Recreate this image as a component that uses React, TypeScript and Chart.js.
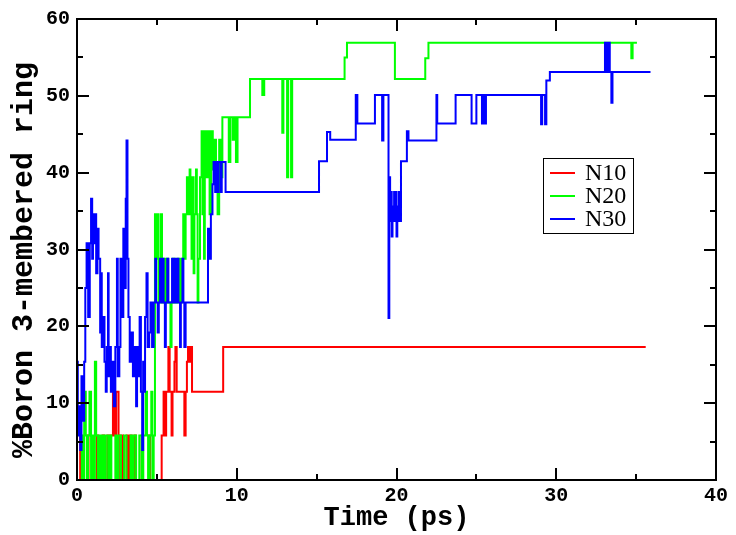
import React, { useEffect, useRef } from 'react';
import { Chart, registerables } from 'chart.js';

Chart.register(...registerables);

// ---- data: [time (ps), % boron in 3-membered ring] ----
const n10: [number, number][] = [
  [0, 0], [0.2, 5.8], [0.27, 0], [0.65, 5.8], [0.72, 0], [1.25, 5.8], [1.33, 0], [1.6, 5.8], [1.7, 0],
  [1.9, 5.8], [2.0, 0], [2.1, 5.8], [2.25, 11.5], [2.35, 5.8], [2.45, 11.5], [2.6, 5.8], [2.7, 0],
  [2.8, 5.8], [2.88, 0], [3.1, 5.8], [3.2, 0], [3.3, 5.8], [3.42, 0], [3.6, 5.8], [3.68, 0],
  [4.05, 5.8], [4.12, 0], [4.5, 5.8], [4.58, 0], [5.3, 5.8], [5.42, 11.5], [5.5, 5.8], [5.58, 11.5],
  [5.72, 17.3], [5.8, 11.5], [5.92, 5.8], [5.98, 11.5], [6.1, 15.4], [6.16, 17.3], [6.24, 11.5],
  [6.72, 5.8], [6.8, 11.5], [6.88, 15.4], [6.95, 17.3], [7.05, 15.4], [7.12, 17.3], [7.2, 11.5],
  [9.15, 17.3], [35.6, 17.3],
];

const n20: [number, number][] = [
  [0, 0], [0.3, 5.8], [0.4, 0], [0.45, 11.5], [0.55, 5.8], [0.62, 0], [0.7, 5.8], [0.78, 11.5],
  [0.88, 0], [0.95, 5.8], [1.05, 0], [1.12, 15.4], [1.2, 5.8], [1.3, 0], [1.42, 5.8], [1.5, 0],
  [1.58, 5.8], [1.7, 0], [1.8, 5.8], [1.95, 0], [2.05, 5.8], [2.15, 0], [2.4, 5.8], [2.5, 0],
  [2.6, 5.8], [2.75, 0], [2.95, 5.8], [3.1, 0], [3.35, 5.8], [3.45, 0], [3.55, 5.8], [3.7, 0],
  [3.9, 5.8], [4.05, 0], [4.15, 5.8], [4.3, 11.5], [4.38, 5.8], [4.45, 0], [4.55, 5.8], [4.65, 11.5],
  [4.72, 0], [4.8, 5.8], [4.88, 34.6], [4.95, 28.8], [5.02, 34.6], [5.1, 23.1], [5.18, 28.8],
  [5.25, 34.6], [5.32, 23.1], [5.42, 28.8], [5.5, 23.1], [5.6, 28.8], [5.7, 23.1], [5.85, 17.3],
  [5.92, 23.1], [6.0, 28.8], [6.1, 23.1], [6.3, 28.8], [6.45, 23.1], [6.55, 28.8], [6.65, 34.6],
  [6.72, 28.8], [6.8, 34.6], [6.88, 39.4], [6.95, 34.6], [7.0, 39.4], [7.05, 40.4], [7.1, 34.6],
  [7.17, 28.8], [7.22, 39.4], [7.3, 26.9], [7.35, 34.6], [7.45, 40.4], [7.5, 34.6], [7.55, 23.1],
  [7.6, 28.8], [7.7, 39.4], [7.8, 45.4], [7.85, 34.6], [7.9, 45.4], [7.95, 28.8], [8.0, 45.4],
  [8.1, 39.4], [8.2, 45.4], [8.3, 34.6], [8.4, 45.4], [8.5, 40.4], [8.6, 44.3], [8.7, 38.5],
  [8.8, 34.6], [8.9, 44.3], [9.0, 39.4], [9.1, 47.2], [9.5, 41.4], [9.6, 47.2], [9.75, 44.3],
  [9.85, 47.2], [9.95, 41.4], [10.05, 47.2], [10.83, 52.2], [11.6, 50.1], [11.72, 52.2],
  [12.85, 45.2], [12.92, 52.2], [13.15, 39.4], [13.22, 52.2], [13.4, 39.4], [13.47, 52.2],
  [16.75, 55], [16.9, 56.9], [19.9, 52.2], [21.8, 54.9], [22.0, 56.9], [34.7, 54.9], [34.78, 56.9],
  [35.05, 56.9],
];

const n30: [number, number][] = [
  [0, 15.4], [0.05, 5.8], [0.12, 9.6], [0.2, 3.9], [0.28, 13.5], [0.38, 7.7], [0.45, 15.4], [0.52, 25],
  [0.6, 30.8], [0.7, 21.2], [0.8, 30.8], [0.88, 36.6], [0.95, 28.8], [1.0, 34.6], [1.05, 30.8],
  [1.12, 34.6], [1.2, 26.9], [1.28, 32.7], [1.35, 28.8], [1.45, 19.2], [1.5, 26.9], [1.55, 17.3],
  [1.65, 21.2], [1.72, 15.4], [1.8, 11.5], [1.86, 17.3], [1.94, 26.9], [1.98, 13.5], [2.05, 17.3],
  [2.12, 11.5], [2.2, 15.4], [2.3, 9.6], [2.4, 17.3], [2.5, 28.8], [2.55, 13.5], [2.65, 17.3],
  [2.72, 28.8], [2.82, 21.2], [2.9, 32.7], [2.97, 25], [3.05, 36.6], [3.1, 44.2], [3.16, 28.8],
  [3.22, 21.2], [3.3, 15.4], [3.4, 19.2], [3.5, 13.5], [3.6, 17.3], [3.7, 9.6], [3.76, 17.3],
  [3.85, 13.5], [3.92, 21.2], [4.0, 11.5], [4.08, 3.9], [4.14, 15.4], [4.2, 11.5], [4.26, 21.2],
  [4.35, 26.9], [4.42, 17.3], [4.52, 19.2], [4.6, 23.1], [4.7, 17.3], [4.8, 23.1], [4.9, 28.8],
  [4.95, 23.1], [5.05, 19.2], [5.12, 23.1], [5.2, 28.8], [5.28, 23.1], [5.35, 28.8], [5.42, 23.1],
  [5.5, 17.3], [5.56, 23.1], [5.65, 28.8], [5.72, 23.1], [5.95, 28.8], [6.02, 23.1], [6.08, 28.8],
  [6.15, 23.1], [6.25, 28.8], [6.35, 23.1], [6.45, 17.3], [6.5, 23.1], [6.6, 28.8], [6.66, 23.1],
  [6.72, 17.3], [6.8, 23.1], [8.2, 32.7], [8.3, 28.8], [8.38, 34.6], [8.48, 38.5], [8.55, 41.4],
  [8.65, 37.5], [8.72, 41.4], [8.8, 37.5], [8.86, 41.4], [9.0, 37.5], [9.06, 41.4], [9.3, 37.5],
  [15.15, 41.5], [15.65, 45.3], [15.85, 44.3], [17.45, 50.1], [17.55, 46.4], [18.65, 50.1],
  [19.1, 44.2], [19.18, 50.1], [19.5, 21.1], [19.55, 39.4], [19.6, 33.7], [19.65, 37.5], [19.7, 31.7],
  [19.75, 35.6], [19.8, 33.7], [19.85, 37.5], [19.9, 33.7], [19.95, 37.5], [20.0, 31.7], [20.05, 35.6],
  [20.1, 33.7], [20.15, 37.5], [20.2, 33.7], [20.28, 41.5], [20.65, 45.4], [20.75, 44.2], [22.5, 50.1],
  [22.55, 46.4], [23.7, 50.1], [24.7, 46.4], [25.0, 50.1], [25.35, 46.4], [25.42, 50.1], [25.52, 46.4],
  [25.6, 50.1], [29.05, 46.3], [29.12, 50.1], [29.3, 46.3], [29.38, 52], [29.6, 53.1], [33.05, 56.9],
  [33.12, 53.1], [33.18, 56.9], [33.25, 53.1], [33.3, 56.9], [33.35, 53.1], [33.45, 49.1],
  [33.52, 53.1], [35.9, 53.1],
];

const seriesNames = ['N10', 'N20', 'N30'];
const seriesColors = ['#ff0000', '#00ff00', '#0000ff'];
const xTitle = 'Time (ps)';
const yTitle = '%Boron 3-membered ring';
const xMin = 0, xMax = 40, xStep = 10;
const yMin = 0, yMax = 60, yStep = 10;

const tickFont = { family: 'Liberation Mono', weight: 'bold' as const, size: 20 };
const titleFont = { family: 'Liberation Mono', weight: 'bold' as const, size: 27 };

const framePlugin = {
  id: 'graceFrame',
  afterDraw(chart: any) {
    const { ctx, chartArea: a, scales } = chart;
    ctx.save();
    ctx.strokeStyle = '#000';
    ctx.lineWidth = 2;
    ctx.strokeRect(a.left, a.top, a.right - a.left, a.bottom - a.top);
    ctx.beginPath();
    for (let v = xMin + xStep / 2; v < xMax; v += xStep / 2) {
      const major = Math.abs(v / xStep - Math.round(v / xStep)) < 1e-6;
      const len = major ? 12 : 6;
      const x = Math.round(scales.x.getPixelForValue(v));
      ctx.moveTo(x, a.bottom); ctx.lineTo(x, a.bottom - len);
      ctx.moveTo(x, a.top); ctx.lineTo(x, a.top + len);
    }
    for (let v = yMin + yStep / 2; v < yMax; v += yStep / 2) {
      const major = Math.abs(v / yStep - Math.round(v / yStep)) < 1e-6;
      const len = major ? 12 : 6;
      const y = Math.round(scales.y.getPixelForValue(v));
      ctx.moveTo(a.left, y); ctx.lineTo(a.left + len, y);
      ctx.moveTo(a.right, y); ctx.lineTo(a.right - len, y);
    }
    ctx.stroke();

    // y-axis title (rotated), placed like the original figure
    ctx.fillStyle = '#000';
    ctx.font = 'bold 30px "Liberation Mono"';
    ctx.textAlign = 'center';
    ctx.textBaseline = 'middle';
    ctx.translate(24, 260);
    ctx.rotate(-Math.PI / 2);
    ctx.fillText(yTitle, 0, 0);
    ctx.restore();
  },
};

const legendPlugin = {
  id: 'graceLegend',
  afterDraw(chart: any) {
    const { ctx } = chart;
    ctx.save();
    ctx.fillStyle = '#fff';
    ctx.fillRect(543, 158, 91, 75);
    ctx.strokeStyle = '#000';
    ctx.lineWidth = 1;
    ctx.strokeRect(543.5, 158.5, 90, 75);
    ctx.font = '24px "Liberation Serif"';
    ctx.textBaseline = 'middle';
    ctx.textAlign = 'left';
    seriesNames.forEach((name, i) => {
      const y = 173 + i * 23;
      ctx.strokeStyle = seriesColors[i];
      ctx.lineWidth = 2;
      ctx.beginPath();
      ctx.moveTo(550, y);
      ctx.lineTo(575, y);
      ctx.stroke();
      ctx.fillStyle = '#000';
      ctx.fillText(name, 585, y + 1);
    });
    ctx.restore();
  },
};

export default function App() {
  const ref = useRef<HTMLCanvasElement>(null);
  useEffect(() => {
    const all = [n10, n20, n30];
    const chart = new Chart(ref.current as HTMLCanvasElement, {
      type: 'line',
      data: {
        datasets: all.map((pts, i) => ({
          label: seriesNames[i],
          data: pts.map(([x, y]) => ({ x, y })),
          borderColor: seriesColors[i],
          backgroundColor: seriesColors[i],
          borderWidth: 2,
          pointRadius: 0,
          stepped: 'before' as const,
          fill: false,
          order: 2 - i,
        })),
      },
      options: {
        animation: false,
        responsive: false,
        devicePixelRatio: 1,
        layout: { padding: { left: 0, top: 13, right: 20, bottom: 0 } },
        plugins: { legend: { display: false }, tooltip: { enabled: false } },
        scales: {
          x: {
            type: 'linear',
            min: xMin,
            max: xMax,
            afterFit: (s: any) => { s.height = 55; },
            ticks: { stepSize: xStep, font: tickFont, color: '#000', padding: 4, maxRotation: 0 },
            grid: { display: false, drawTicks: false },
            border: { display: false },
            title: { display: true, text: xTitle, font: titleFont, color: '#000', padding: { top: 0, bottom: 1 } },
          },
          y: {
            type: 'linear',
            min: yMin,
            max: yMax,
            afterFit: (s: any) => { s.width = 77; },
            ticks: { stepSize: yStep, font: tickFont, color: '#000', padding: 7 },
            grid: { display: false, drawTicks: false },
            border: { display: false },
            title: { display: false, text: yTitle },
          },
        },
      },
      plugins: [framePlugin, legendPlugin],
    });
    return () => chart.destroy();
  }, []);
  return (
    <div style={{ position: 'absolute', left: 0, top: 0, width: 736, height: 535, background: '#fff' }}>
      <canvas ref={ref} width={736} height={535} style={{ display: 'block', width: 736, height: 535 }} />
    </div>
  );
}
